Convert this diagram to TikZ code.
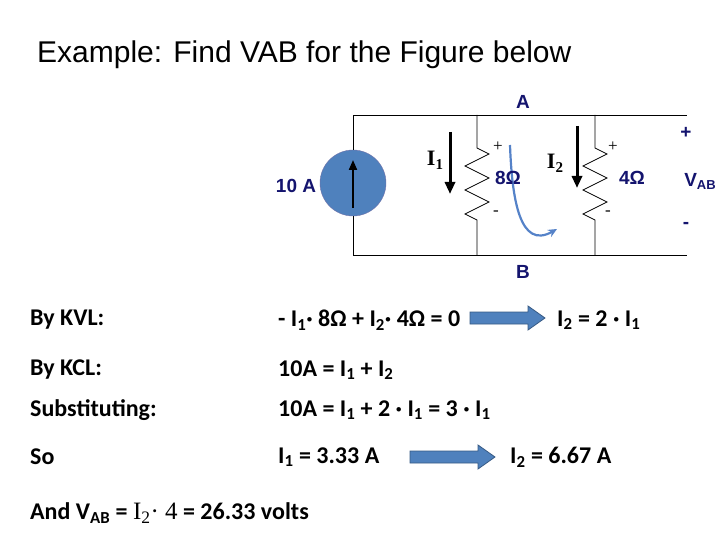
\documentclass[tikz,border=0pt]{standalone}
\usepackage{fontspec}
\setmainfont{Carlito}
\newfontfamily\arial{Liberation Sans}
\newfontfamily\tnr{Liberation Serif}
\usetikzlibrary{arrows.meta}
\definecolor{navy}{RGB}{20,20,110}
\definecolor{cblue}{RGB}{79,129,189}
\definecolor{sblue}{RGB}{85,130,200}
\begin{document}
\begin{tikzpicture}[x=1pt,y=-1pt,
 wire/.style={black,line width=0.8pt},
 clab/.style={font=\arial\bfseries\fontsize{19}{19}\selectfont,text=navy,inner sep=0},
 pm/.style={font=\tnr\fontsize{17}{17}\selectfont,inner sep=0},
 txt/.style={anchor=west,font=\bfseries\fontsize{24}{25}\selectfont,inner sep=0},
 cur/.style={-{Triangle[length=12pt,width=10pt]},line width=3pt},
 barrow/.style={fill=cblue,draw=cblue!70!black,line width=0.8pt}]
\useasboundingbox (0,0) rectangle (720,540);
\node[anchor=west,inner sep=0,font=\arial\fontsize{30}{30}\selectfont] (title) at (37,55) {Example: Find VAB for the Figure below};
% circuit
\coordinate (tl) at (353,115); \coordinate (tr) at (687,115);
\coordinate (bl) at (353,255); \coordinate (br) at (687,255);
\node[circle,fill=cblue,draw=navy!60,minimum size=66pt,inner sep=0] (src) at (353,183) {};
\draw[wire] (src.north) -- (tl) -- (tr);
\draw[wire] (src.south) -- (bl) -- (br);
\draw[-{Triangle[length=10pt,width=8pt]},line width=2pt] (353,208) -- (353,160);
\foreach \x/\n in {477/r1,595/r2}{
 \draw[wire] (\x,115) -- (\x,148) -- (\x+12,154) -- (\x-12,166) -- (\x+12,178) -- (\x-12,190) -- (\x+12,202) -- (\x-12,214) -- (\x,220) -- (\x,255);
}
\draw[cur] (450,132) -- (450,194);
\draw[cur] (577,126) -- (577,188);
\draw[-{Stealth[length=9pt,width=8pt]},sblue,line width=2.2pt] (510,145) .. controls (512,200) and (520,250) .. (557,229);
\node[clab] (A) at (523,102) {A};
\node[clab] (B) at (523,272) {B};
\node[clab] (s10) at (296,186) {10 A};
\node[clab] (o8) at (508,178) {8Ω};
\node[clab] (o4) at (632,178) {4Ω};
\node[clab] (vab) at (700,181) {V\raisebox{-0.3ex}{\fontsize{13}{13}\selectfont AB}};
\node[clab] (vp) at (686,133) {+};
\node[clab] (vm) at (686,225) {-};
\node[pm] (p1) at (498,147) {+};
\node[pm] (m1) at (496,213) {-};
\node[pm] (p2) at (613,147) {+};
\node[pm] (m2) at (608,213) {-};
\node[font=\tnr\bfseries\fontsize{22}{22}\selectfont,inner sep=0] (i1) at (435,160) {I\raisebox{-0.4ex}{\fontsize{15}{15}\selectfont 1}};
\node[font=\tnr\bfseries\fontsize{22}{22}\selectfont,inner sep=0] (i2) at (555,163) {I\raisebox{-0.4ex}{\fontsize{15}{15}\selectfont 2}};
% text
\newcommand{\sub}[1]{\textsubscript{#1}}
\node[txt] (t1) at (30,320) {By KVL:};
\node[txt] (t2) at (278,320) {- I\sub{1}· 8Ω + I\sub{2}· 4Ω = 0};
\draw[barrow] (470,312) -- (528,312) -- (528,306) -- (545,318) -- (528,330) -- (528,324) -- (470,324) -- cycle;
\node[txt] (t3) at (557,320) {I\sub{2} = 2 · I\sub{1}};
\node[txt] (t4) at (30,370) {By KCL:};
\node[txt] (t5) at (278,370) {10A = I\sub{1} + I\sub{2}};
\node[txt] (t6) at (30,410) {Substituting:};
\node[txt] (t7) at (278,410) {10A = I\sub{1} + 2 · I\sub{1} = 3 · I\sub{1}};
\node[txt] (t8) at (30,457) {So};
\node[txt] (t9) at (278,457) {I\sub{1} = 3.33 A};
\draw[barrow] (410,451) -- (478,451) -- (478,445) -- (495,457) -- (478,469) -- (478,463) -- (410,463) -- cycle;
\node[txt] (t10) at (510,457) {I\sub{2} = 6.67 A};
\node[txt] (t11) at (30,513) {And V\sub{AB} = {\mdseries\tnr\fontsize{25}{25}\selectfont I\sub{2}· 4} = 26.33 volts};
\end{tikzpicture}
\end{document}
